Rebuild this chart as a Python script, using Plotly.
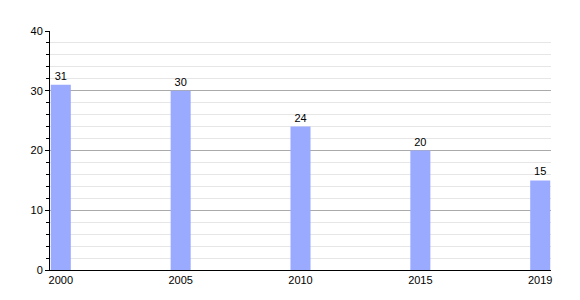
import plotly.graph_objects as go

years = ["2000", "2005", "2010", "2015", "2019"]
values = [31, 30, 24, 20, 15]
y_ticks = [0, 10, 20, 30, 40]

fig = go.Figure(go.Bar(
    x=years, y=values, text=[str(v) for v in values], textposition="outside",
    marker=dict(color="#99aaff", line=dict(width=0)), width=0.167,
    textfont=dict(family="Liberation Sans, Arial", size=11, color="#000"),
    cliponaxis=False,
))
fig.update_layout(
    width=580, height=300, margin=dict(l=50, r=29, t=31, b=30),
    paper_bgcolor="white", plot_bgcolor="white", showlegend=False,
    font=dict(family="Liberation Sans, Arial", size=11, color="#000"),
    xaxis=dict(type="category", range=[-0.09, 4.09], showline=True, linecolor="#000",
               linewidth=1, ticks="", showgrid=False, tickfont=dict(size=11)),
    yaxis=dict(range=[0, 40], tickvals=y_ticks, showline=True, linecolor="#000", linewidth=1,
               ticks="outside", ticklen=4, tickcolor="#000", showgrid=True, gridcolor="#aaaaaa",
               zeroline=False,
               minor=dict(dtick=2, ticks="outside", ticklen=3, tickcolor="#000",
                          showgrid=True, gridcolor="#e6e6e6")),
)
fig.write_html("out.html")
